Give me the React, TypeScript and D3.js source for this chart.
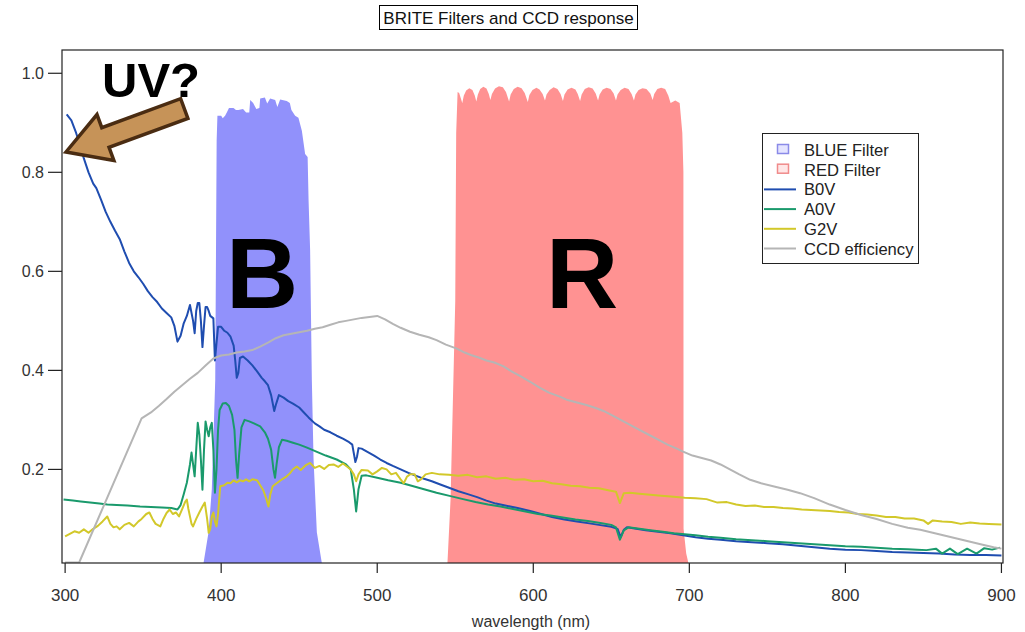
import React from "react";
import * as d3 from "d3";

const W = 1025;
const H = 632;

const xTicks = [300, 400, 500, 600, 700, 800, 900];
const yTicks = [0.2, 0.4, 0.6, 0.8, 1.0];

// [wavelength nm, transmission]
const blueFilter: [number, number][] = [
  [388.7, 0.011], [391.9, 0.073], [394, 0.16], [396.2, 0.381], [397.1, 0.864], [397.6, 0.914],
  [398.5, 0.914], [400, 0.914], [401, 0.909], [402.5, 0.914], [403.6, 0.921], [405, 0.93],
  [407.9, 0.93], [409.5, 0.926], [411, 0.926], [414, 0.928], [416, 0.921], [418, 0.921],
  [418.6, 0.946], [420.5, 0.94], [422.5, 0.928], [424.5, 0.93], [425, 0.949], [428, 0.951],
  [429.5, 0.939], [431.4, 0.949], [434.6, 0.946], [436, 0.932], [437.8, 0.947], [442, 0.944],
  [444, 0.94], [445, 0.926], [447.4, 0.914], [449.5, 0.91], [451.7, 0.884], [453.8, 0.837],
  [455.4, 0.831], [456, 0.744], [457, 0.643], [458.1, 0.381], [459.2, 0.22], [461.3, 0.073],
  [464.5, 0.011],
];

const redFilter: [number, number][] = [
  [545, 0.011], [547, 0.14], [548.5, 0.34], [550, 0.54], [550.6, 0.88], [551.5, 0.962],
  [552.5, 0.96], [554.5, 0.94],
  [555.5, 0.955], [557, 0.965], [559, 0.97], [561, 0.966], [562.5, 0.955], [563.5, 0.943],
  [564.5, 0.957], [566, 0.968], [568, 0.973], [570, 0.969], [571.5, 0.958], [572.5, 0.946],
  [573.5, 0.958], [575.5, 0.969], [578, 0.974], [580.5, 0.972], [582.5, 0.962], [584.5, 0.943],
  [585.5, 0.957], [587.5, 0.968], [590, 0.973], [592.5, 0.97], [594.5, 0.96], [596.5, 0.942],
  [597.5, 0.956], [599.5, 0.966], [602, 0.971], [604, 0.967], [606, 0.958], [607.5, 0.945],
  [608.5, 0.957], [610.5, 0.966], [613, 0.972], [615.5, 0.968], [617.5, 0.958], [619, 0.944],
  [620, 0.957], [622, 0.967], [624.5, 0.971], [627, 0.967], [628.5, 0.958], [630, 0.944],
  [631, 0.957], [633, 0.968], [635.5, 0.972], [638, 0.969], [640, 0.959], [641.5, 0.945],
  [642.5, 0.957], [644.5, 0.967], [647, 0.971], [649.5, 0.968], [651.5, 0.959], [653, 0.945],
  [654, 0.957], [656, 0.966], [658.5, 0.971], [661, 0.968], [663, 0.958], [664.5, 0.945],
  [665.5, 0.957], [667.5, 0.966], [670, 0.97], [672.5, 0.968], [675, 0.959], [676.5, 0.946],
  [677.5, 0.958], [679.5, 0.968], [682, 0.971], [684.5, 0.968], [686.5, 0.955], [688, 0.94],
  [691, 0.945], [693.8, 0.94], [695.5, 0.88], [696.2, 0.8], [696.3, 0.08], [698, 0.03],
  [699.4, 0.011],
];

const b0v: [number, number][] = [
  [301, 0.917], [304, 0.905], [307, 0.88], [310, 0.85], [312, 0.828], [315, 0.8], [318, 0.777],
  [320, 0.768], [323, 0.745], [326, 0.72], [329, 0.7], [332, 0.682], [335, 0.665], [338, 0.64],
  [341, 0.617], [344, 0.6], [347, 0.588], [350, 0.575], [353, 0.56], [356, 0.548], [359, 0.538],
  [362, 0.525], [365, 0.516], [368, 0.507], [370, 0.49], [372, 0.458], [374, 0.47], [376, 0.495],
  [378, 0.51], [380, 0.532], [382, 0.5], [383, 0.475], [384, 0.52], [385, 0.536], [386, 0.536],
  [387, 0.5], [388, 0.447], [389, 0.49], [390, 0.528], [391, 0.528], [392, 0.52], [393, 0.51],
  [395, 0.505], [396, 0.42], [397, 0.455], [398, 0.488], [400, 0.488], [402, 0.48], [404, 0.476],
  [406, 0.468], [408, 0.45], [409, 0.42], [410, 0.385], [411, 0.395], [412, 0.425], [414, 0.428],
  [417, 0.42], [420, 0.41], [423, 0.398], [426, 0.385], [428, 0.378], [430, 0.37], [432, 0.35],
  [434, 0.318], [435, 0.33], [437, 0.35], [440, 0.345], [443, 0.338], [446, 0.333], [450, 0.325],
  [453, 0.315], [456, 0.305], [460, 0.293], [463, 0.287], [466, 0.28], [470, 0.275], [474, 0.268],
  [478, 0.262], [482, 0.255], [484, 0.25], [486, 0.215], [487, 0.225], [488, 0.243], [490, 0.242],
  [494, 0.235], [498, 0.228], [502, 0.22], [506, 0.213], [510, 0.207], [515, 0.2], [520, 0.193],
  [525, 0.187], [530, 0.181], [535, 0.176], [540, 0.17], [546, 0.163], [552, 0.156], [558, 0.15],
  [564, 0.144], [570, 0.137], [576, 0.131], [582, 0.127], [590, 0.122], [598, 0.116], [605, 0.11],
  [612, 0.104], [620, 0.099], [628, 0.095], [636, 0.091], [644, 0.087], [650, 0.084], [654, 0.08],
  [656, 0.063], [658, 0.078], [660, 0.083], [666, 0.08], [672, 0.077], [680, 0.074], [688, 0.071],
  [696, 0.067], [704, 0.063], [712, 0.06], [720, 0.058], [730, 0.055], [740, 0.053], [750, 0.051],
  [760, 0.049], [770, 0.046], [780, 0.043], [790, 0.04], [800, 0.038], [810, 0.037], [820, 0.035],
  [830, 0.033], [840, 0.032], [850, 0.031], [860, 0.03], [870, 0.028], [880, 0.027], [890, 0.027],
  [900, 0.026],
];

const a0v: [number, number][] = [
  [299, 0.139], [305, 0.137], [310, 0.135], [316, 0.133], [322, 0.131], [327, 0.129], [333, 0.128],
  [340, 0.127], [348, 0.125], [355, 0.124], [362, 0.123], [368, 0.122], [372, 0.119], [374, 0.128],
  [376, 0.15], [378, 0.173], [380, 0.21], [381, 0.234], [382, 0.21], [383, 0.186], [384, 0.24],
  [385, 0.294], [386, 0.27], [387, 0.22], [388, 0.159], [389, 0.24], [390, 0.297], [391, 0.28],
  [392, 0.267], [393, 0.285], [394, 0.294], [395, 0.24], [396, 0.153], [397, 0.2], [398, 0.28],
  [399, 0.32], [401, 0.333], [403, 0.334], [405, 0.328], [407, 0.31], [408.5, 0.28], [409.5, 0.22],
  [410.5, 0.183], [411.5, 0.23], [413, 0.285], [415, 0.3], [418, 0.297], [421, 0.293], [425, 0.287],
  [428, 0.275], [430, 0.262], [432, 0.24], [433.5, 0.2], [434.5, 0.183], [435.5, 0.21], [437, 0.245],
  [439, 0.26], [442, 0.258], [446, 0.254], [450, 0.25], [455, 0.244], [461, 0.236], [467, 0.228],
  [474, 0.22], [480, 0.21], [483, 0.2], [485, 0.16], [486.5, 0.115], [488, 0.16], [490, 0.187],
  [493, 0.188], [500, 0.183], [507, 0.178], [515, 0.173], [522, 0.167], [530, 0.16], [538, 0.153],
  [547, 0.146], [555, 0.14], [563, 0.134], [571, 0.129], [579, 0.125], [587, 0.12], [595, 0.115],
  [603, 0.11], [611, 0.107], [619, 0.103], [627, 0.099], [635, 0.096], [643, 0.092], [650, 0.088],
  [653, 0.083], [655.5, 0.058], [658, 0.077], [661, 0.083], [668, 0.08], [675, 0.077], [683, 0.074],
  [690, 0.071], [697, 0.069], [704, 0.067], [712, 0.064], [720, 0.062], [730, 0.059], [740, 0.057],
  [750, 0.055], [760, 0.053], [770, 0.051], [780, 0.049], [790, 0.047], [800, 0.045], [810, 0.044],
  [820, 0.042], [830, 0.04], [840, 0.039], [846, 0.038], [852, 0.037], [858, 0.04], [862, 0.03],
  [867, 0.04], [872, 0.029], [878, 0.04], [884, 0.03], [889, 0.041], [894, 0.038], [899, 0.042],
];

const g2v: [number, number][] = [
  [300, 0.065], [303, 0.07], [306, 0.075], [309, 0.072], [312, 0.079], [315, 0.072], [318, 0.08],
  [321, 0.086], [324, 0.095], [327, 0.105], [329, 0.09], [331, 0.083], [333, 0.085], [335, 0.079],
  [338, 0.088], [341, 0.092], [344, 0.085], [347, 0.095], [349, 0.1], [352, 0.11], [354, 0.113],
  [356, 0.1], [358, 0.09], [361, 0.085], [363, 0.1], [365, 0.112], [367, 0.119], [369, 0.11],
  [371, 0.113], [373, 0.105], [375, 0.12], [377, 0.135], [378, 0.139], [379, 0.12], [381, 0.09],
  [382, 0.085], [384, 0.1], [386, 0.113], [388, 0.125], [389.5, 0.133], [391, 0.1], [392, 0.072],
  [393, 0.08], [394, 0.105], [395, 0.113], [396, 0.095], [397, 0.085], [398, 0.11], [399.4, 0.166],
  [402, 0.168], [404, 0.173], [406, 0.172], [408, 0.178], [410, 0.174], [412, 0.178], [414, 0.176],
  [416, 0.18], [418, 0.176], [420, 0.18], [423, 0.178], [425, 0.168], [427, 0.158], [429, 0.14],
  [430.3, 0.125], [431.5, 0.15], [433, 0.166], [436, 0.173], [439, 0.18], [442, 0.186], [444, 0.192],
  [446, 0.2], [448.5, 0.206], [451, 0.199], [454, 0.208], [457, 0.213], [460, 0.203], [463, 0.207],
  [466, 0.201], [469, 0.209], [472, 0.21], [475, 0.205], [478, 0.212], [481, 0.205], [483, 0.2],
  [485, 0.19], [486.5, 0.176], [488, 0.19], [490, 0.199], [494, 0.198], [497, 0.19], [500, 0.196],
  [503, 0.203], [506, 0.2], [509, 0.19], [512, 0.193], [515, 0.18], [517, 0.172], [519, 0.185],
  [521, 0.19], [524, 0.19], [526, 0.176], [528, 0.18], [531, 0.19], [535, 0.193], [540, 0.19],
  [546, 0.189], [552, 0.187], [558, 0.189], [564, 0.184], [570, 0.186], [576, 0.181], [582, 0.183],
  [588, 0.179], [594, 0.18], [600, 0.176], [606, 0.177], [612, 0.172], [618, 0.17], [624, 0.167],
  [630, 0.166], [636, 0.163], [642, 0.162], [648, 0.158], [653, 0.155], [655.5, 0.132], [658, 0.152],
  [662, 0.153], [668, 0.151], [675, 0.149], [682, 0.147], [690, 0.145], [697, 0.143], [704, 0.142],
  [711, 0.14], [718, 0.133], [724, 0.134], [730, 0.129], [736, 0.126], [742, 0.127], [748, 0.124],
  [754, 0.124], [760, 0.122], [766, 0.121], [772, 0.119], [778, 0.118], [784, 0.117], [790, 0.116],
  [796, 0.114], [802, 0.113], [808, 0.11], [814, 0.109], [820, 0.107], [826, 0.104], [832, 0.104],
  [838, 0.101], [844, 0.101], [850, 0.097], [853, 0.09], [856, 0.097], [862, 0.095], [868, 0.094],
  [874, 0.09], [880, 0.093], [886, 0.091], [892, 0.09], [900, 0.089],
];

const ccd: [number, number][] = [
  [300, 0.012], [309, 0.012], [349, 0.303], [355, 0.315], [360, 0.328], [365, 0.342], [370, 0.357],
  [375, 0.37], [380, 0.383], [385, 0.395], [390, 0.41], [395, 0.424], [400, 0.43], [405, 0.432],
  [410, 0.436], [415, 0.438], [420, 0.441], [425, 0.448], [430, 0.456], [435, 0.465], [440, 0.471],
  [445, 0.474], [450, 0.477], [455, 0.48], [460, 0.484], [465, 0.487], [470, 0.492], [475, 0.497],
  [480, 0.5], [485, 0.503], [490, 0.506], [495, 0.508], [500, 0.51], [505, 0.503], [510, 0.494],
  [515, 0.486], [521, 0.478], [527, 0.472], [533, 0.467], [538, 0.461], [544, 0.452], [551, 0.444],
  [556, 0.436], [560, 0.431], [565, 0.426], [570, 0.42], [575, 0.416], [581, 0.408], [586, 0.398],
  [592, 0.388], [598, 0.377], [604, 0.365], [610, 0.355], [617, 0.347], [622, 0.34], [628, 0.335],
  [634, 0.33], [640, 0.324], [645, 0.318], [650, 0.31], [656, 0.3], [662, 0.29], [668, 0.28],
  [674, 0.27], [680, 0.26], [686, 0.25], [692, 0.242], [696, 0.236], [702, 0.228], [708, 0.223],
  [714, 0.218], [720, 0.21], [726, 0.2], [732, 0.19], [739, 0.179], [746, 0.172], [755, 0.165],
  [763, 0.159], [771, 0.152], [780, 0.142], [790, 0.129], [800, 0.118], [810, 0.108], [820, 0.1],
  [830, 0.09], [840, 0.082], [848, 0.078], [856, 0.072], [864, 0.066], [872, 0.06], [880, 0.054],
  [888, 0.048], [895, 0.043], [900, 0.04],
];

const C_BLUE_FILL = "#9191fb";
const C_RED_FILL = "#ff9292";
const C_B0V = "#1f4db0";
const C_A0V = "#1a9a6c";
const C_G2V = "#d2c82a";
const C_CCD = "#b5b5b5";

const FONT = "'Liberation Sans', Arial, Helvetica, sans-serif";

export default function App() {
  const left = 62, right = 1003, top = 50, bottom = 563;
  const x = d3.scaleLinear().domain([298, 901]).range([left, right]);
  const y = d3.scaleLinear().domain([0.011, 1.047]).range([bottom, top]);

  const line = d3.line<[number, number]>().x((d) => x(d[0])).y((d) => y(d[1]));
  const area = d3
    .area<[number, number]>()
    .x((d) => x(d[0]))
    .y0(y(0.011))
    .y1((d) => y(d[1]));

  const series = [
    { name: "B0V", data: b0v, color: C_B0V },
    { name: "A0V", data: a0v, color: C_A0V },
    { name: "G2V", data: g2v, color: C_G2V },
    { name: "CCD efficiency", data: ccd, color: C_CCD },
  ];

  const legendX = 762, legendY = 133;
  const rowH = 19.7;
  const legendItems = [
    { name: "BLUE Filter", type: "box", stroke: "#8a8ae8", fill: "#e4e4ff" },
    { name: "RED Filter", type: "box", stroke: "#f08a8a", fill: "#ffe6e6" },
    ...series.map((s) => ({ name: s.name, type: "line", stroke: s.color, fill: "none" })),
  ];

  const ang = (Math.atan2(-43, 117) * 180) / Math.PI;

  return (
    <svg
      width={W}
      height={H}
      style={{ position: "fixed", left: 0, top: 0, background: "#fff" }}
      fontFamily={FONT}
    >
      <rect x={0} y={0} width={W} height={H} fill="#fff" />
      <defs>
        <clipPath id="plotClip">
          <rect x={left} y={top} width={right - left} height={bottom - top} />
        </clipPath>
      </defs>

      {/* title */}
      <rect x={379.5} y={5.5} width={258} height={24} fill="#fff" stroke="#000" strokeWidth={1} />
      <text x={508.5} y={24} textAnchor="middle" fontSize={17} fill="#111">
        BRITE Filters and CCD response
      </text>

      <g clipPath="url(#plotClip)">
        <path d={area(blueFilter) || ""} fill={C_BLUE_FILL} />
        <path d={area(redFilter) || ""} fill={C_RED_FILL} />
        {series.map((s) => (
          <path
            key={s.name}
            d={line(s.data) || ""}
            fill="none"
            stroke={s.color}
            strokeWidth={2}
            strokeLinejoin="round"
          />
        ))}
      </g>

      {/* frame */}
      <rect x={left} y={top} width={right - left} height={bottom - top} fill="none" stroke="#222" strokeWidth={1.2} />

      {/* y axis */}
      {yTicks.map((t) => (
        <g key={t}>
          <line x1={left - 14} x2={left} y1={y(t)} y2={y(t)} stroke="#222" strokeWidth={1.2} />
          <text x={left - 18} y={y(t) + 5.5} textAnchor="end" fontSize={16} fill="#333">
            {t.toFixed(1)}
          </text>
        </g>
      ))}

      {/* x axis */}
      {xTicks.map((t) => (
        <g key={t}>
          <line x1={x(t)} x2={x(t)} y1={bottom} y2={bottom + 10} stroke="#222" strokeWidth={1.2} />
          <text x={x(t)} y={601} textAnchor="middle" fontSize={17} fill="#333">
            {t}
          </text>
        </g>
      ))}
      <text x={531} y={627} textAnchor="middle" fontSize={16} fill="#333">
        wavelength (nm)
      </text>

      {/* legend */}
      <rect x={legendX + 0.5} y={legendY + 0.5} width={156} height={130} fill="#fff" stroke="#222" strokeWidth={1} />
      {legendItems.map((it, i) => {
        const cy = legendY + 17 + i * rowH;
        return (
          <g key={it.name}>
            {it.type === "box" ? (
              <rect x={777.5} y={cy - 5.5} width={11} height={9} fill={it.fill} stroke={it.stroke} strokeWidth={1.5} />
            ) : (
              <line x1={764} x2={796} y1={cy} y2={cy} stroke={it.stroke} strokeWidth={2} />
            )}
            <text x={804} y={cy + 6} fontSize={16.6} fill="#222">
              {it.name}
            </text>
          </g>
        );
      })}

      {/* annotations */}
      <text x={151} y={97} textAnchor="middle" fontSize={49} fontWeight="bold" fill="#000">
        UV?
      </text>
      <g transform={`translate(66,152) rotate(${ang})`}>
        <path
          d="M0,0 L42,-24.5 L42,-10.5 L126,-10.5 L126,10.5 L42,10.5 L42,24.5 Z"
          fill="#c69358"
          stroke="#4a2c12"
          strokeWidth={3.5}
          strokeLinejoin="miter"
        />
      </g>
      <text x={262} y={308} textAnchor="middle" fontSize={100} fontWeight="bold" fill="#000">
        B
      </text>
      <text x={582} y={308} textAnchor="middle" fontSize={100} fontWeight="bold" fill="#000">
        R
      </text>
    </svg>
  );
}
